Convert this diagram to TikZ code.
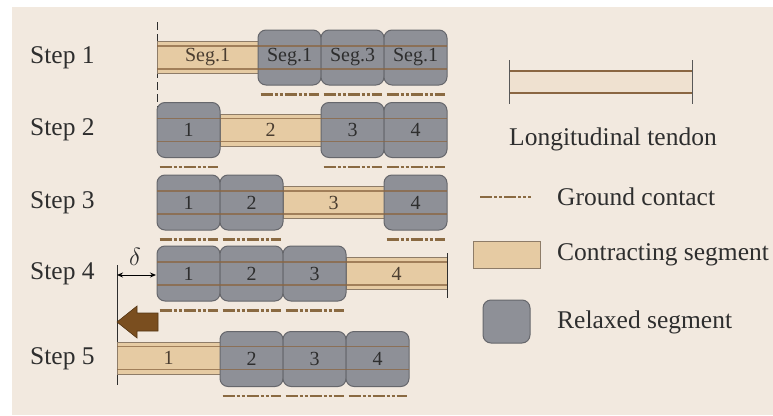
\documentclass[tikz,border=0pt]{standalone}
\usepackage{fontspec}
\setmainfont{Liberation Serif}
\usetikzlibrary{arrows.meta}
\definecolor{bgc}{HTML}{F2E9DF}
\definecolor{tanc}{HTML}{E6CBA3}
\definecolor{tanedge}{HTML}{8E7C68}
\definecolor{grayc}{HTML}{8E9097}
\definecolor{grayedge}{HTML}{66676C}
\definecolor{tendc}{HTML}{8A6642}
\definecolor{groundc}{HTML}{8A6A42}
\definecolor{txtc}{HTML}{2E2E2E}
\definecolor{arrc}{HTML}{7A4E1F}
\tikzset{
  contr/.style={draw=tanedge, line width=1pt, fill=tanc, minimum height=32pt, inner sep=0pt,
     font=\fontsize{20}{22}\selectfont, text=txtc!80!brown},
  relax/.style={draw=grayedge, line width=1pt, fill=grayc, rounded corners=8pt, minimum height=55pt, inner sep=0pt,
     font=\fontsize{20}{22}\selectfont, text=txtc},
  tendon/.style={draw=tendc, line width=1.2pt, opacity=0.75},
  ground/.style={draw=groundc, line width=2.8pt, dash pattern=on 12pt off 2pt on 3pt off 2pt on 3pt off 2pt},
  lbl/.style={anchor=west, inner sep=0pt, font=\fontsize{25.5}{29}\selectfont, text=txtc},
}
\newcommand\cseg[5]{\node[contr, minimum width={#3-#2}] (#1) at ({(#2+#3)/2},#4) {#5};}
\newcommand\rseg[5]{\node[relax, minimum width={#3-#2}] (#1) at ({(#2+#3)/2},#4) {#5};}
\newcommand\gnd[1]{\draw[ground] ([xshift=3pt,yshift=-9pt]#1.south west) -- ([xshift=-3pt,yshift=-9pt]#1.south east);}
\newcommand\tend[3]{\draw[tendon] (#1,#3-11.5) -- (#2,#3-11.5); \draw[tendon] (#1,#3+11.5) -- (#2,#3+11.5);}
\begin{document}
\begin{tikzpicture}[x=1pt,y=-1pt]
\useasboundingbox (0,0) rectangle (773,415);
\fill[white] (0,0) rectangle (773,415);
\fill[bgc] (12,7) rectangle (773,415);

% Step labels
\node[lbl] (st1) at (30,57.5) {Step 1};
\node[lbl] (st2) at (30,130) {Step 2};
\node[lbl] (st3) at (30,202.5) {Step 3};
\node[lbl] (st4) at (30,273.5) {Step 4};
\node[lbl] (st5) at (30,359) {Step 5};

% Row 1
\draw[draw=txtc, line width=1pt, dash pattern=on 8pt off 4pt] (157,22) -- (157,108);
\cseg{a1}{157}{258}{57.5}{Seg.1}
\rseg{a2}{258}{321}{57.5}{Seg.1}
\rseg{a3}{321}{384}{57.5}{Seg.3}
\rseg{a4}{384}{447}{57.5}{Seg.1}
\tend{157}{447}{57.5}
\gnd{a2}\gnd{a3}\gnd{a4}

% Row 2
\cseg{b2}{220}{321}{130}{2}
\rseg{b1}{157}{220}{130}{1}
\rseg{b3}{321}{384}{130}{3}
\rseg{b4}{384}{447}{130}{4}
\tend{157}{447}{130}
\gnd{b1}\gnd{b3}\gnd{b4}

% Row 3
\cseg{c3}{283}{384}{202.5}{3}
\rseg{c1}{157}{220}{202.5}{1}
\rseg{c2}{220}{283}{202.5}{2}
\rseg{c4}{384}{447}{202.5}{4}
\tend{157}{447}{202.5}
\gnd{c1}\gnd{c2}\gnd{c4}

% Row 4
\cseg{d4}{346}{447}{273.5}{4}
\rseg{d1}{157}{220}{273.5}{1}
\rseg{d2}{220}{283}{273.5}{2}
\rseg{d3}{283}{346}{273.5}{3}
\tend{157}{447}{273.5}
\draw[draw=txtc, line width=1pt] (447,253) -- (447,298);
\gnd{d1}\gnd{d2}\gnd{d3}

% delta
\coordinate (v1) at (117,265);
\coordinate (v2) at (117,385);
\draw[draw=txtc, line width=1pt] (v1) -- (v2);
\coordinate (da) at (117,275);
\coordinate (db) at (156,275);
\draw[{Stealth[length=6pt,width=5pt]}-{Stealth[length=6pt,width=5pt]}, line width=1pt, draw=black] (da) -- (db);
\node[font=\itshape\fontsize{24}{26}\selectfont, text=txtc, inner sep=0pt] (delta) at (135,257) {$\delta$};

% brown arrow
\fill[arrc, draw=arrc!70!black, line width=0.6pt] (117,322) -- (137,306) -- (137,313) -- (158,313) -- (158,331) -- (137,331) -- (137,338) -- cycle;

% Row 5
\cseg{e1}{117}{220}{358}{1}
\rseg{e2}{220}{283}{359}{2}
\rseg{e3}{283}{346}{359}{3}
\rseg{e4}{346}{409}{359}{4}
\tend{117}{409}{358}
\gnd{e2}\gnd{e3}\gnd{e4}

% Legend
\fill[tanc!25!bgc] (509,71) rectangle (692,93);
\draw[tendon, opacity=1] (509,71) -- (692,71);
\draw[tendon, opacity=1] (509,93) -- (692,93);
\draw[draw=txtc!80, line width=1pt] (509,60) -- (509,104);
\draw[draw=txtc!80, line width=1pt] (692,60) -- (692,104);
\node[lbl] (lt) at (509,139) {Longitudinal tendon};

\coordinate (g1) at (480,197);
\coordinate (g2) at (531,197);
\draw[ground] (g1) -- (g2);
\node[lbl] (lg) at (557,197) {Ground contact};

\node[contr, minimum width=67pt, minimum height=27pt] (lc) at (506.5,254.5) {};
\node[lbl] (lcs) at (557,255) {Contracting segment};

\node[relax, minimum width=47pt, minimum height=43pt] (lr) at (506.5,321.5) {};
\node[lbl] (lrs) at (557,322) {Relaxed segment};
\end{tikzpicture}
\end{document}
